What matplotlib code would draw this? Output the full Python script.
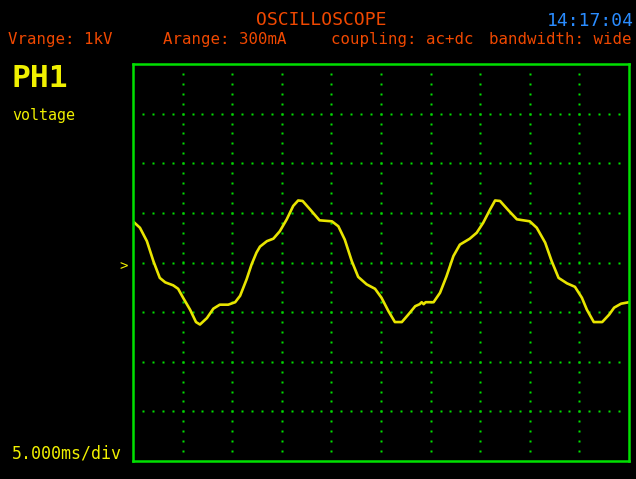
import numpy as np
import matplotlib
matplotlib.use("Agg")
import matplotlib.pyplot as plt

# trace, in divisions (x: 0..10, y: -4..4)
trace_x = [0.02, 0.14, 0.28, 0.41, 0.54, 0.65, 0.81, 0.91, 1.01, 1.15, 1.27, 1.35,
           1.49, 1.62, 1.75, 1.92, 2.06, 2.16, 2.29, 2.39, 2.49, 2.56, 2.70, 2.83,
           2.96, 3.10, 3.23, 3.33, 3.42, 3.57, 3.76, 4.01, 4.14, 4.27, 4.41, 4.54,
           4.71, 4.88, 5.01, 5.15, 5.28, 5.42, 5.55, 5.69, 5.78, 5.82, 5.86, 5.90,
           6.06, 6.19, 6.32, 6.46, 6.59, 6.79, 6.93, 7.06, 7.20, 7.30, 7.40, 7.57,
           7.74, 8.00, 8.14, 8.31, 8.44, 8.58, 8.75, 8.91, 9.05, 9.15, 9.29, 9.46,
           9.60, 9.70, 9.84, 10.0]
trace_y = [0.81, 0.70, 0.43, 0.03, -0.31, -0.40, -0.46, -0.53, -0.71, -0.95, -1.20, -1.25,
           -1.12, -0.93, -0.85, -0.85, -0.80, -0.67, -0.34, -0.04, 0.20, 0.32, 0.43, 0.48,
           0.63, 0.87, 1.14, 1.25, 1.24, 1.07, 0.85, 0.83, 0.73, 0.46, 0.03, -0.29,
           -0.44, -0.53, -0.71, -0.98, -1.20, -1.20, -1.05, -0.88, -0.84, -0.80, -0.84, -0.80,
           -0.80, -0.61, -0.28, 0.13, 0.36, 0.48, 0.60, 0.80, 1.07, 1.25, 1.24, 1.05,
           0.87, 0.83, 0.70, 0.40, 0.03, -0.31, -0.42, -0.49, -0.71, -0.95, -1.20, -1.20,
           -1.05, -0.91, -0.83, -0.80]

title = "OSCILLOSCOPE"
clock = "14:17:04"
header = [("Vrange: 1kV", 8), ("Arange: 300mA", 163),
          ("coupling: ac+dc", 331), ("bandwidth: wide", 489)]

W, H = 636, 479
orange = "#f04800"
yellow = "#f0f000"
green = "#00e000"
mono = "DejaVu Sans Mono"

fig = plt.figure(figsize=(W / 100, H / 100), dpi=100, facecolor="black")
ax = fig.add_axes([133 / W, 18 / H, 496 / W, 397 / H], facecolor="black")
ax.set_xlim(0, 10)
ax.set_ylim(-4, 4)
ax.set_xticks([])
ax.set_yticks([])
for s in ax.spines.values():
    s.set_color(green)
    s.set_linewidth(1.8)

# dotted graticule
steps = np.arange(0.2, 10, 0.2)
vsteps = np.arange(-3.8, 4, 0.2)
for gx in range(1, 10):
    ax.plot(np.full(len(vsteps), gx), vsteps, ls="none", marker="s", ms=2.0,
            mec="none", mfc=green)
for gy in range(-3, 4):
    ax.plot(steps, np.full(len(steps), gy), ls="none", marker="s", ms=2.0,
            mec="none", mfc=green)

ax.plot(trace_x, trace_y, color="#e8e400", lw=1.9, solid_joinstyle="round")

def put(x, y, s, family=mono, **kw):
    fig.text(x / W, 1 - y / H, s, family=family, va="baseline", **kw)

put(321, 25, title, color=orange, fontsize=13, ha="center")
put(634, 26, clock, family=["Liberation Sans Narrow", mono], color="#2a8cff",
    fontsize=13, ha="right")
for label, x0 in header:
    put(x0, 44, label, color=orange, fontsize=11.3, ha="left")

put(12, 87, "PH1", color=yellow, fontsize=22.5, weight="bold")
put(12, 120, "voltage", color=yellow, fontsize=10.8)
put(12, 458, "5.000ms/div", color=yellow, fontsize=12)
put(119, 270, ">", color=yellow, fontsize=10)

fig.savefig("out.png", dpi=100, facecolor="black")
